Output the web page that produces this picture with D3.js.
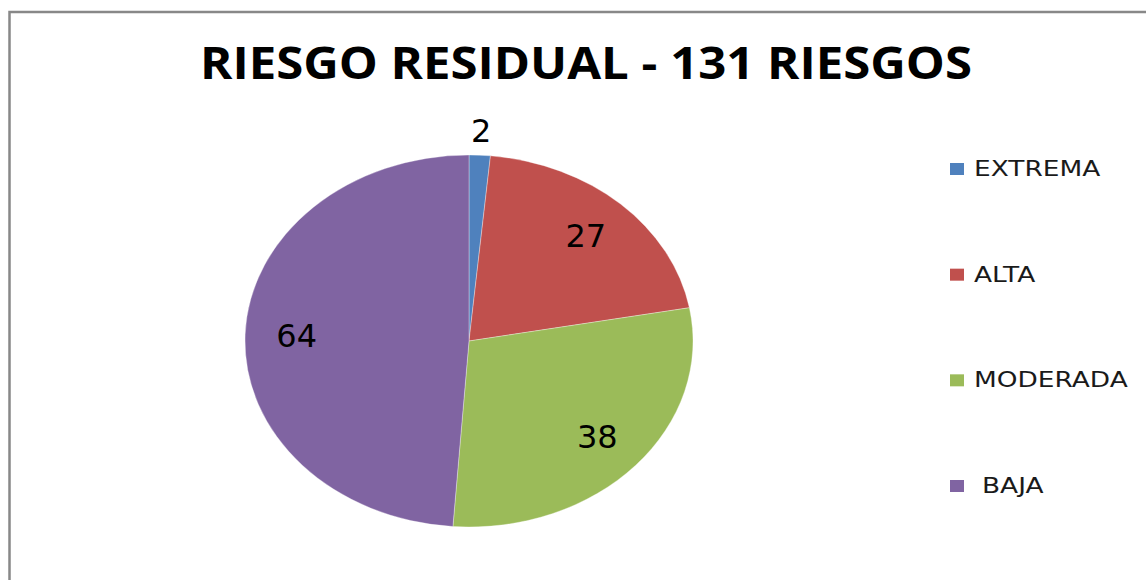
<!DOCTYPE html>
<html lang="es">
<head>
    <meta charset="UTF-8">
    <title>Riesgo Residual</title>
    <script src="https://cdnjs.cloudflare.com/ajax/libs/d3/7.8.5/d3.min.js"></script>
    <style>
        body {
            margin: 0;
            background-color: white;
            font-family: 'DejaVu Sans', 'Open Sans', sans-serif;
        }
        .title {
            font-family: 'Open Sans', 'Liberation Sans', sans-serif;
            font-weight: bold;
            font-size: 44px;
            fill: #000;
        }
        .slice-label {
            font-size: 32px;
            fill: #000;
        }
        .legend text {
            font-size: 22px;
            fill: #1a1a1a;
        }
    </style>
</head>
<body>
    <div id="chart"></div>

    <script>
        const categories = ["EXTREMA", "ALTA", "MODERADA", "BAJA"];
        const values = [2, 27, 38, 64];
        const colors = ["#4F81BD", "#C0504D", "#9BBB59", "#8064A2"];
        const titleText = "RIESGO RESIDUAL - 131 RIESGOS";

        const W = 1146, H = 580;
        const cx = 469, cy = 341;
        const rx = 224, ry = 186;

        const svg = d3.select("#chart")
            .append("svg")
            .attr("width", W)
            .attr("height", H);

        // chart frame (right and bottom edges fall outside the picture)
        svg.append("rect")
            .attr("x", 9.5)
            .attr("y", 12)
            .attr("width", W + 20)
            .attr("height", H + 20)
            .attr("fill", "white")
            .attr("stroke", "#888")
            .attr("stroke-width", 2.5);

        svg.append("text")
            .attr("class", "title")
            .attr("x", 200)
            .attr("y", 79)
            .attr("textLength", 772)
            .attr("lengthAdjust", "spacingAndGlyphs")
            .text(titleText);

        const pie = d3.pie().sort(null).value(d => d.value);
        const data = pie(categories.map((c, i) => ({name: c, value: values[i]})));
        const total = d3.sum(values);

        // pie is drawn as a circle, stretched into an ellipse
        const arc = d3.arc().innerRadius(0).outerRadius(ry);

        const pieG = svg.append("g")
            .attr("transform", `translate(${cx},${cy}) scale(${rx / ry},1)`);

        pieG.selectAll("path")
            .data(data)
            .join("path")
            .attr("d", arc)
            .attr("fill", (d, i) => colors[i])
            .attr("stroke", "rgba(255,255,255,0.5)")
            .attr("stroke-width", 0.6);

        // data labels: small slices outside, others inside
        const labelK = d => d.data.value / total < 0.05 ? 1.13 : 0.77;
        const midA = d => (d.startAngle + d.endAngle) / 2;

        svg.selectAll(".slice-label")
            .data(data)
            .join("text")
            .attr("class", "slice-label")
            .attr("text-anchor", "middle")
            .attr("dominant-baseline", "central")
            .attr("x", d => cx + Math.sin(midA(d)) * rx * labelK(d))
            .attr("y", d => cy - Math.cos(midA(d)) * ry * labelK(d))
            .text(d => d.data.value);

        // legend
        const legendY = d3.scalePoint()
            .domain(categories)
            .range([169, 486]);

        const legend = svg.append("g").attr("class", "legend");

        const rows = legend.selectAll("g")
            .data(categories)
            .join("g")
            .attr("transform", d => `translate(950,${legendY(d)})`);

        rows.append("rect")
            .attr("x", 0)
            .attr("y", -6)
            .attr("width", 14)
            .attr("height", 12)
            .attr("fill", (d, i) => colors[i]);

        // legend lettering in the reference is horizontally stretched
        rows.append("text")
            .attr("transform", (d, i) => `translate(${i === 3 ? 32 : 24},7) scale(1.2,1)`)
            .text(d => d);
    </script>
</body>
</html>
